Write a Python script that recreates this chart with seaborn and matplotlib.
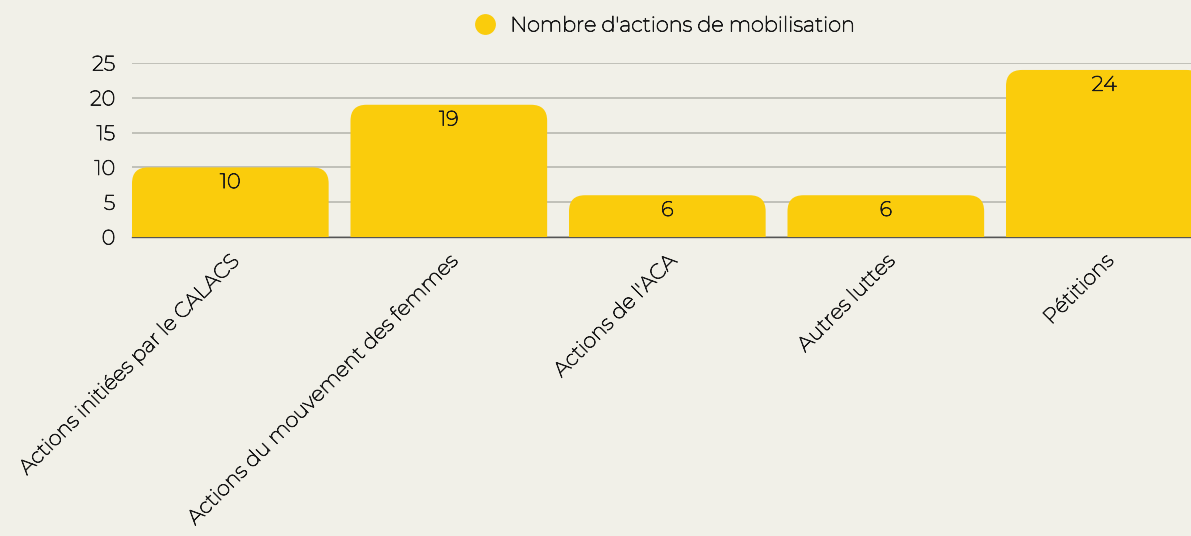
import numpy as np
import matplotlib
matplotlib.use("Agg")
import matplotlib.pyplot as plt
import matplotlib.patheffects as pe
import seaborn as sns
from matplotlib.patches import FancyBboxPatch
from matplotlib.lines import Line2D

categories = ["Actions initiées par le CALACS", "Actions du mouvement des femmes",
              "Actions de l'ACA", "Autres luttes", "Pétitions"]
values = [10, 19, 6, 6, 24]
series_name = "Nombre d'actions de mobilisation"
yticks = [0, 5, 10, 15, 20, 25]

bg = "#f1f0e8"
yellow = "#facc0c"
txt = "#1a1a1a"

sns.set_theme(style="white")
plt.rcParams["font.family"] = ["Montserrat", "Inter", "DejaVu Sans"]

# the installed Montserrat renders very thin, give it some body
thick = [pe.withStroke(linewidth=0.6, foreground=txt)]
fs = 15

fig = plt.figure(figsize=(11.91, 5.36), dpi=100, facecolor=bg)
ax = fig.add_axes([132 / 1191, 299 / 536, 1092.5 / 1191, 174 / 536])
ax.set_facecolor(bg)

sns.barplot(x=categories, y=values, color=yellow, width=0.9, ax=ax, zorder=2)

ax.set_xlim(-0.45, 4.55)
ax.set_ylim(0, 25)

# swap the square bars for ones with rounded tops
px_x = 1 / 218.5   # data units per pixel, x
px_y = 1 / 6.96    # data units per pixel, y
r = 16 * px_x
for p in list(ax.patches):
    x0, w, h = p.get_x(), p.get_width(), p.get_height()
    p.remove()
    ext = 20 * px_y
    rb = FancyBboxPatch((x0, -ext), w, h + ext,
                        boxstyle=f"round,pad=0,rounding_size={r}",
                        mutation_aspect=px_y / px_x,
                        facecolor=yellow, edgecolor="none", zorder=2)
    ax.add_patch(rb)

for i, v in enumerate(values):
    ax.annotate(str(v), (i, v), xytext=(0, -11), textcoords="offset points",
                ha="center", va="center", fontsize=fs, color=txt, zorder=3,
                path_effects=thick)

ax.set_yticks(yticks)
ax.yaxis.grid(True, color="#bcbcb4", linewidth=1.3, zorder=0)
ax.set_axisbelow(True)
for s in ["top", "right", "left"]:
    ax.spines[s].set_visible(False)
ax.spines["bottom"].set_color("#555555")
ax.spines["bottom"].set_linewidth(1)
ax.spines["bottom"].set_zorder(1)
ax.tick_params(axis="both", length=0, labelsize=fs, colors=txt)
ax.tick_params(axis="y", pad=12)
ax.set_xticks(range(len(categories)))
ax.set_xticklabels(categories, rotation=45, ha="right", rotation_mode="anchor")
ax.tick_params(axis="x", pad=10)
for t in ax.get_xticklabels() + ax.get_yticklabels():
    t.set_path_effects(thick)
ax.set_xlabel("")
ax.set_ylabel("")

handle = Line2D([], [], marker="o", linestyle="none", markersize=15,
                markerfacecolor=yellow, markeredgecolor="none")
leg = fig.legend([handle], [series_name], loc="center", bbox_to_anchor=(660 / 1191, 1 - 26 / 536),
                 frameon=False, fontsize=fs, handletextpad=0.2, labelcolor=txt)
for t in leg.get_texts():
    t.set_path_effects(thick)

fig.savefig("out.png", dpi=100, facecolor=bg)
